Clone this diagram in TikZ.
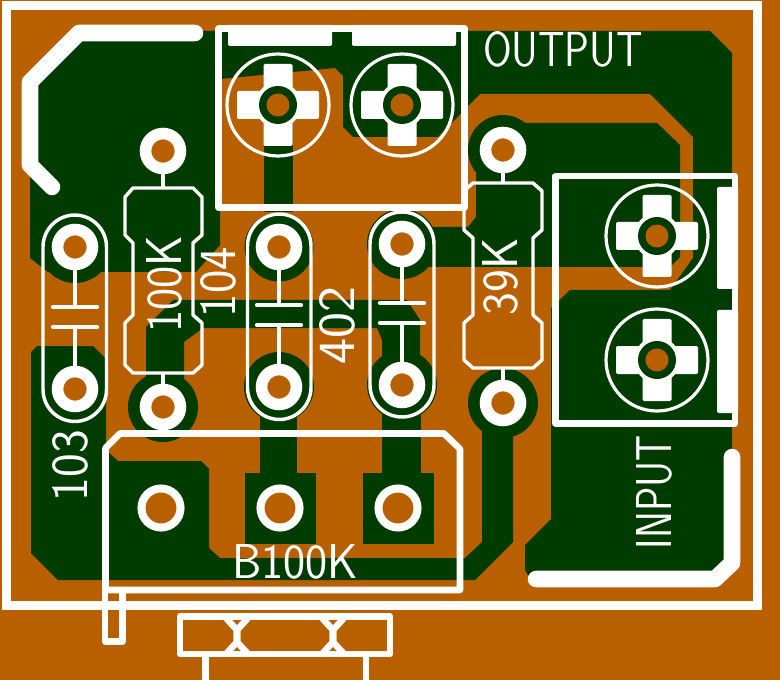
\documentclass[tikz,border=0pt]{standalone}
\usepackage{graphicx}
\usepackage{fontspec}
\usepackage{tikz}
\definecolor{board}{HTML}{B86000}
\definecolor{trace}{HTML}{003C00}
\newdimen\pxu
\pxu=0.75pt
\newcommand{\silktext}[3]{\resizebox{#1\pxu}{#2\pxu}{\sffamily\addfontfeatures{FakeBold=0.8}\fontsize{36}{36}\selectfont #3}}
\tikzset{
	silk/.style={draw=white,line width=4.9pt,line join=round},
	outline/.style={draw=white,line width=2.6pt,line join=round},
	plate/.style={draw=white,line width=3.2pt,line cap=round},
	wide/.style={draw=white,line width=12.4pt,line cap=round,line join=round},
	pad/.style={circle,draw=white,fill=board,line width=8.7pt,minimum size=26.2pt,inner sep=0pt},
	potpad/.style={circle,draw=white,fill=board,line width=6pt,minimum size=29.3pt,inner sep=0pt},
	label/.style={text=white,inner sep=0pt},
}

\begin{document}
\begin{tikzpicture}[x=0.75pt,y=-0.75pt]
	\useasboundingbox (0,0) rectangle (780,680);
	\fill[board] (0,0) rectangle (780,680);
	% copper
	\begin{scope}[fill=trace]
		\fill (79,31) -- (710,31) -- (732,53) -- (732,565) -- (715,579) -- (530,579) -- (525,570) -- (525,545) -- (551,519) -- (551,308) -- (570,290) -- (670,290) -- (693,258) -- (693,137) -- (650,94) -- (480,94) -- (438,137) -- (353,137) -- (343,127) -- (343,76) -- (335,68) -- (220,79) -- (220,245) -- (196,272) -- (48,272) -- (30,258) -- (30,82) -- cycle;
		\fill (75,247) circle (36);
		\fill (503,150) circle (35);
		\fill (503,123) -- (657,123) -- (680,145) -- (680,257) -- (670,267) -- (402,267) -- (402,227) -- (468,227) -- (476,217) -- (476,150) -- cycle;
		\fill (402,244) circle (35);
		\fill (37,346) -- (93,346) -- (106,359) -- (106,450) -- (118,461) -- (201,461) -- (209,469) -- (209,548) -- (220,558) -- (465,558) -- (482,542) -- (482,403) -- (513,403) -- (513,542) -- (475,580) -- (58,580) -- (31,553) -- (31,352) -- cycle;
		\fill (503,403) circle (35);
		\fill (146,407) -- (146,327) -- (173,300) -- (407,300) -- (420,320) -- (420,385) -- (382,385) -- (382,340) -- (377,328) -- (203,328) -- (184,342) -- (184,407) -- cycle;
		\fill (163,407) circle (35);
		\fill (402,385) circle (35);
		\fill (382,385) rectangle (421,473);
		\fill (363,473) rectangle (434,544);
		\fill (279,247) circle (34.5);
		\fill (264,105) rectangle (293,212);
		\fill (279,387) circle (35);
		\fill (260,387) rectangle (297,473);
		\fill (245,473) rectangle (316,544);
	\end{scope}
	% board edge and thick strips
	\draw[draw=white,line width=6.75pt] (6,5.5) rectangle (757,605.5);
	\draw[wide] (195,33) -- (79,33) -- (30,82) -- (30,165) -- (52,187);
	\draw[wide] (536,579) -- (715,579) -- (732,563) -- (732,457);
	% screw terminals
	\foreach \x/\y/\name in {278/105/outa,402/105/outb,657/236/ina,657/360/inb} {
		\begin{scope}[shift={(\x,\y)}]
			\fill[white,rounded corners=1pt] (-14.5,-41) rectangle (14.5,41);
			\fill[white,rounded corners=1pt] (-41,-14) rectangle (41,14);
			\fill[white] (0,0) circle (23);
			\fill[trace] (0,0) circle (19);
			\node[circle,fill=board,minimum size=17.2pt,inner sep=0pt] (\name) at (0,0) {};
			\draw[draw=white,line width=2.4pt] (0,0) circle (51);
		\end{scope}
	}
	\draw[silk] (218.5,28.5) rectangle (464.5,207.5);
	\fill[white,rounded corners=1pt] (228,25) rectangle (332,46);
	\fill[white,rounded corners=1pt] (352,25) rectangle (456,46);
	\draw[silk] (555.5,176) rectangle (735,423.5);
	\fill[white,rounded corners=1pt] (717,187) rectangle (738,289);
	\fill[white,rounded corners=1pt] (717,310) rectangle (738,413);
	% pads
	\node[pad] (capaa) at (75,247) {};
	\node[pad] (capab) at (75,389) {};
	\node[pad] (capba) at (279,247) {};
	\node[pad] (capbb) at (279,387) {};
	\node[pad] (capca) at (402,244) {};
	\node[pad] (capcb) at (402,385) {};
	\node[pad] (resaa) at (163,151) {};
	\node[pad] (resab) at (163,407) {};
	\node[pad] (resba) at (503,150) {};
	\node[pad] (resbb) at (503,403) {};
	\node[potpad] (pota) at (161,508) {};
	\node[potpad] (potb) at (280,508) {};
	\node[potpad] (potc) at (398,508) {};
	% capacitors
	\draw[outline,rounded corners=24pt] (43,215) rectangle (106.5,421.5);
	\draw[outline,rounded corners=24pt] (247.5,214) rectangle (311,419.5);
	\draw[outline,rounded corners=24pt] (370,212) rectangle (434,417);
	\foreach \x/\ya/\yb/\pa/\pb in {75/307/327/capaa/capab,279/305/325/capba/capbb,402/303/323/capca/capcb} {
		\coordinate (top\pa) at (\x,\ya);
		\coordinate (bot\pb) at (\x,\yb);
		\draw[plate] (\x-22,\ya) -- (\x+22,\ya);
		\draw[plate] (\x-22,\yb) -- (\x+22,\yb);
		\draw[outline] (\pa) -- (top\pa);
		\draw[outline] (\pb) -- (bot\pb);
	}
	% resistors
	\draw[outline] (133,188) -- (125,197) -- (125,235) -- (133,243) -- (133,315) -- (125,323) -- (125,365) -- (133,373) -- (193,373) -- (202,365) -- (202,323) -- (193,315) -- (193,243) -- (202,235) -- (202,197) -- (193,188) -- cycle;
	\draw[outline] (473,183) -- (464,191) -- (464,230) -- (473,238) -- (473,315) -- (464,323) -- (464,360) -- (473,368) -- (533,368) -- (542,360) -- (542,323) -- (533,315) -- (533,238) -- (542,230) -- (542,191) -- (533,183) -- cycle;
	\coordinate (resatop) at (163,188);
	\coordinate (resabot) at (163,373);
	\coordinate (resbtop) at (503,183);
	\coordinate (resbbot) at (503,368);
	\draw[outline] (resaa) -- (resatop);
	\draw[outline] (resab) -- (resabot);
	\draw[outline] (resba) -- (resbtop);
	\draw[outline] (resbb) -- (resbbot);
	% pot body
	\draw[silk] (105.5,590) -- (105.5,448) -- (120,433.5) -- (444,433.5) -- (460,449) -- (460,590) -- cycle;
	\draw[silk] (105,590) rectangle (122.5,641.5);
	\draw[silk] (180,616.5) rectangle (390,654);
	\foreach \x in {237,333} {
		\draw[silk] (\x-11,618) -- (\x,630) -- (\x,642) -- (\x-11,654);
		\draw[silk] (\x+11,618) -- (\x,630) -- (\x,642) -- (\x+11,654);
	}
	\draw[silk] (205.5,654) -- (205.5,680);
	\draw[silk] (366,654) -- (366,680);
	% labels
	\node[label] (output) at (563,49.5) {\silktext{160}{35}{OUTPUT}};
	\node[label,rotate=90] (input) at (654.5,492) {\silktext{114}{35}{INPUT}};
	\node[label] (bpot) at (295,562) {\silktext{126}{34}{B100K}};
	\node[label,rotate=90] (lbla) at (70.5,465.5) {\silktext{71}{35}{103}};
	\node[label,rotate=90] (lblb) at (164.5,284.5) {\silktext{97}{35}{100K}};
	\node[label,rotate=90] (lblc) at (218.5,282) {\silktext{70}{35}{104}};
	\node[label,rotate=90] (lbld) at (337.5,325) {\silktext{78}{35}{402}};
	\node[label,rotate=90] (lble) at (500.5,276.5) {\silktext{77}{35}{39K}};
\end{tikzpicture}
\end{document}
